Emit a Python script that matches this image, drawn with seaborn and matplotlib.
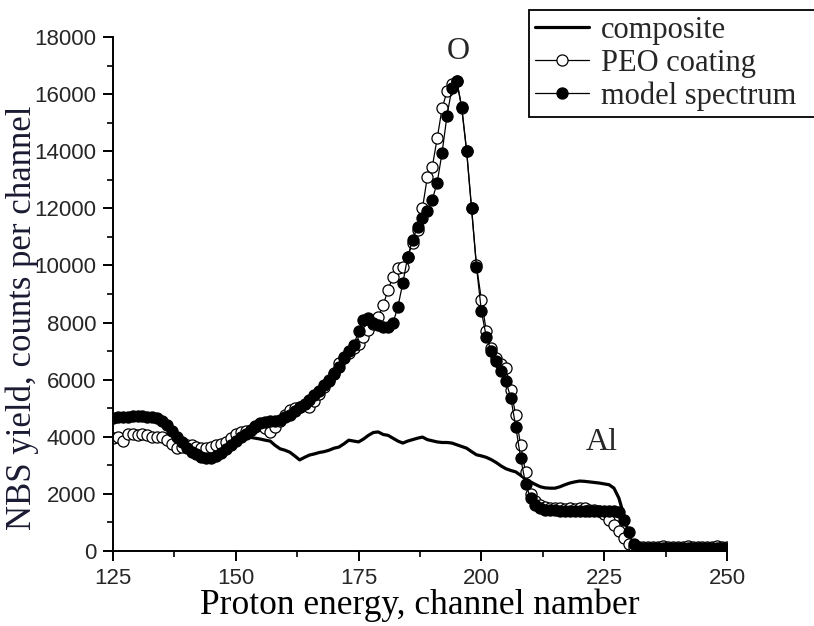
"""
NBS spectra of the PEO coating: measured spectrum, model fit and composite curve.
"""

import numpy as np
import pandas as pd
import matplotlib
matplotlib.use("Agg")
import matplotlib.pyplot as plt
import seaborn as sns
from matplotlib.ticker import MultipleLocator

# Channel numbers (one point per channel)
channels = list(range(125, 251))

# Measured spectrum of the PEO coating (open circles)
peo_coating = [
    3950, 4000, 3850, 4100, 4100, 4050, 4080, 4050, 4000, 4000,
    3980, 3900, 3750, 3600, 3650, 3700, 3700, 3650, 3620, 3600,
    3650, 3700, 3750, 3820, 3950, 4100, 4150, 4200, 4250, 4350,
    4400, 4300, 4150, 4350, 4550, 4750, 4950, 5000, 5050, 5100,
    5050, 5250, 5500, 5750, 6000, 6250, 6600, 6800, 6950, 7100,
    7250, 7500, 7750, 7950, 8200, 8600, 9150, 9600, 9900, 9950,
    10300, 10800, 11250, 12000, 13100, 13450, 14450, 15500, 16100, 16350,
    16450, 15500, 14000, 12000, 10000, 8800, 7700, 7100, 6750, 6550,
    6400, 5650, 4750, 3700, 2750, 2000, 1750, 1600, 1550, 1500,
    1500, 1500, 1480, 1500, 1480, 1500, 1500, 1450, 1450, 1400,
    1300, 1100, 900, 700, 450, 250, 150, 150, 150, 150,
    150, 140, 160, 150, 150, 140, 150, 160, 150, 150,
    150, 140, 150, 160, 150, 150,
]

# Model spectrum (filled circles)
model_spectrum = [
    4650, 4680, 4700, 4700, 4720, 4720, 4720, 4700, 4700, 4650,
    4550, 4400, 4200, 4000, 3800, 3620, 3480, 3380, 3300, 3260,
    3270, 3330, 3430, 3560, 3700, 3850, 3980, 4100, 4250, 4380,
    4480, 4530, 4550, 4560, 4600, 4680, 4780, 4900, 5030, 5150,
    5300, 5450, 5620, 5800, 5950, 6200, 6450, 6750, 7000, 7200,
    7700, 8100, 8150, 8000, 7900, 7850, 7850, 7980, 8550, 9380,
    10300, 10900, 11350, 11650, 11900, 12300, 12900, 13950, 15250, 16200,
    16450, 15550, 14000, 12000, 9950, 8400, 7500, 7000, 6650, 6300,
    5950, 5350, 4350, 3250, 2350, 1850, 1600, 1500, 1450, 1430,
    1420, 1400, 1400, 1400, 1400, 1400, 1400, 1400, 1400, 1400,
    1400, 1400, 1400, 1350, 1100, 650, 250, 120, 100, 100,
    100, 100, 100, 100, 100, 100, 100, 100, 100, 100,
    100, 100, 100, 100, 100, 100,
]

# Composite spectrum (solid line)
composite = [
    4550, 4600, 4620, 4650, 4650, 4650, 4650, 4620, 4600, 4550,
    4450, 4300, 4100, 3900, 3700, 3550, 3420, 3330, 3280, 3250,
    3280, 3350, 3450, 3580, 3700, 3830, 3930, 3980, 3980, 3950,
    3920, 3880, 3850, 3700, 3580, 3530, 3460, 3330, 3190, 3280,
    3360, 3400, 3450, 3480, 3530, 3600, 3640, 3750, 3880, 3850,
    3820, 3920, 4050, 4150, 4170, 4080, 4050, 3950, 3850, 3780,
    3850, 3900, 3950, 3990, 3900, 3860, 3820, 3800, 3800, 3780,
    3720, 3660, 3600, 3480, 3370, 3330, 3280, 3200, 3100, 2980,
    2880, 2820, 2770, 2650, 2520, 2420, 2330, 2250, 2210, 2200,
    2200, 2250, 2320, 2380, 2420, 2450, 2440, 2420, 2400, 2380,
    2350, 2320, 2200, 1850, 1250, 600, 150, 80, 80, 80,
    80, 80, 80, 80, 80, 80, 80, 80, 80, 80,
    80, 80, 80, 80, 80, 80,
]

df = pd.DataFrame({
    "channel": channels,
    "peo": peo_coating,
    "model": model_spectrum,
    "composite": composite,
})

sns.set_theme(style="ticks")
plt.rcParams["font.family"] = ["Liberation Sans", "DejaVu Sans"]

fig = plt.figure(figsize=(8.14, 6.26), dpi=100)
ax = fig.add_axes([0.1388, 0.1198, 0.7543, 0.8211])

# Composite first, then measured, then the model on top
sns.lineplot(data=df, x="channel", y="composite", ax=ax, color="black",
             linewidth=2.3, label="composite")
sns.lineplot(data=df, x="channel", y="peo", ax=ax, color="black", linewidth=0.9,
             marker="o", markersize=8, markerfacecolor="white",
             markeredgecolor="black", markeredgewidth=0.9, label="PEO coating")
sns.lineplot(data=df, x="channel", y="model", ax=ax, color="black", linewidth=0.9,
             marker="o", markersize=8, markerfacecolor="black",
             markeredgecolor="black", markeredgewidth=0.9, label="model spectrum")

ax.set_xlim(125, 250)
ax.set_ylim(0, 18000)
ax.xaxis.set_major_locator(MultipleLocator(25))
ax.xaxis.set_minor_locator(MultipleLocator(12.5))
ax.yaxis.set_major_locator(MultipleLocator(2000))
ax.yaxis.set_minor_locator(MultipleLocator(1000))
ax.tick_params(which="major", direction="out", length=7, width=1.4,
               labelsize=16, pad=5, color="black")
ax.tick_params(which="minor", direction="out", length=4, width=1.2, color="black")
for lab in ax.get_xticklabels() + ax.get_yticklabels():
    lab.set_fontfamily("Liberation Sans")

sns.despine(ax=ax)
for side in ["left", "bottom"]:
    ax.spines[side].set_linewidth(1.4)
    ax.spines[side].set_color("black")

serif = ["Liberation Serif", "DejaVu Serif"]
ax.set_xlabel("Proton energy, channel namber", fontsize=25.5, family=serif,
              labelpad=0, color="black")
ax.set_ylabel("NBS yield, counts per channel", fontsize=25, family=serif,
              color="#1a1a33")
# the y label sits a little below the middle of the axis
ax.yaxis.set_label_coords(-0.121, 0.453)

# Peak labels
ax.text(195.3, 17000, "O", fontsize=23, family=serif, ha="center", va="bottom")
ax.text(224.5, 3300, "Al", fontsize=23, family=serif, ha="center", va="bottom")

# Legend box running off the right edge of the figure
leg = ax.legend(loc="upper left", bbox_to_anchor=(0.65, 0.984, 0.4, 0.0),
                bbox_transform=fig.transFigure, mode="expand",
                prop={"family": serif, "size": 22}, frameon=True,
                fancybox=False, framealpha=1, edgecolor="black",
                handlelength=1.75, handletextpad=0.4, labelspacing=0.12,
                borderpad=0.2, borderaxespad=0)
leg.get_frame().set_linewidth(1.3)

fig.savefig("out.png", dpi=100)
